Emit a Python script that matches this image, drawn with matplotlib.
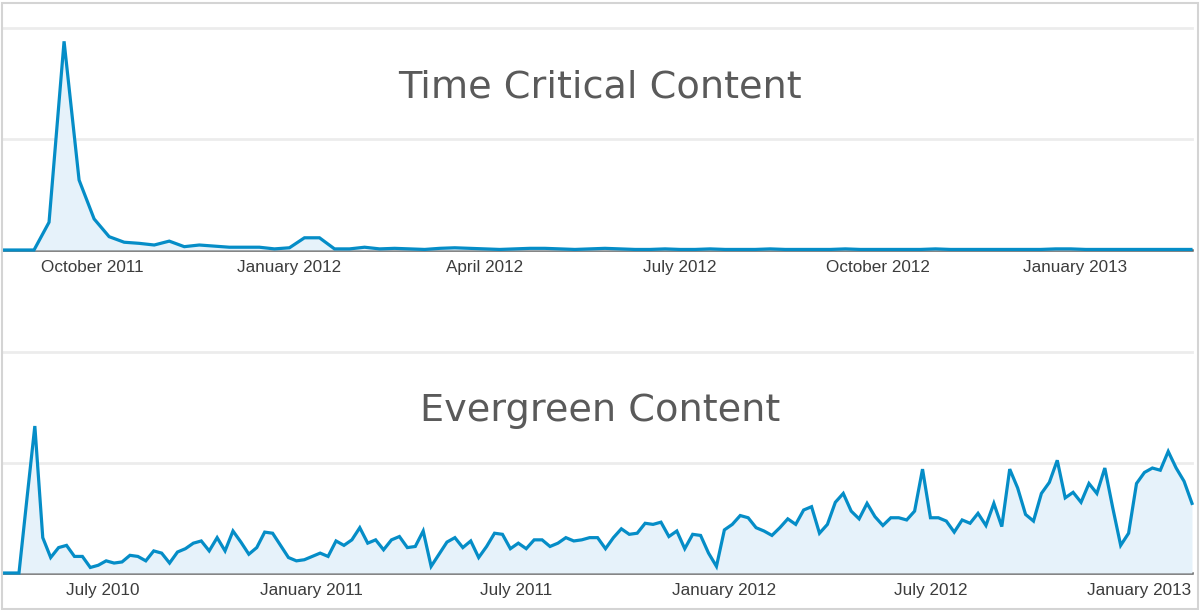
import matplotlib
matplotlib.use("Agg")
import matplotlib.pyplot as plt
import matplotlib.dates as mdates
from matplotlib.patches import Rectangle
import pandas as pd

# weekly values, one chart per content type (unit: visits, grid every 100)
time_critical_start = "2011-08-21"
time_critical = [0, 0, 0, 25, 188, 63, 28, 12, 7, 6, 4.5, 8, 3, 4.5, 3.5, 2.5, 2.5, 2.5, 1, 2,
                 11, 11, 1, 1, 2.5, 1,
                 1.5, 1, 0.5, 1.5, 2, 1.5, 1, 0.5, 1, 1.5, 1.5, 1, 0.5, 1, 1.5, 1, 0.5, 0.5, 1, 0.5,
                 0.5, 1, 0.5, 0.5, 0.5, 1, 0.5, 0.5, 0.5, 0.5, 1, 0.5, 0.5, 0.5, 0.5, 0.5, 1, 0.5, 0.5, 0.5,
                 0.5, 0.5, 0.5, 0.5, 1, 1, 0.5, 0.5, 0.5, 0.5, 0.5, 0.5, 0.5, 0.5]

evergreen_start = "2010-04-04"
evergreen = [0, 0, 0, 67, 133,
             32, 14, 23, 25, 15, 15, 5, 7, 11,
             9, 10, 16, 15, 11, 20, 18, 9, 19, 22,
             27, 29, 20, 32, 20, 38, 28, 17, 23, 37,
             36, 25, 14, 11, 12, 15, 18, 15, 29, 25,
             30, 41, 27, 30, 21, 30, 33, 23, 24, 38,
             6, 17, 28, 32, 23, 29, 14, 24, 36, 35,
             22, 27, 22, 30, 30, 24, 27, 32, 29, 30,
             32, 32, 22, 32, 40, 35, 36, 45, 44, 46,
             33, 38, 22, 35, 34, 18, 6, 39, 44, 52,
             50, 41, 38, 34, 41, 49, 44, 57, 60, 36,
             44, 64, 72, 56, 49, 63, 51, 43, 50, 50,
             48, 56, 94, 50, 50, 47, 37, 48, 45, 54,
             43, 63, 42, 94, 77, 53, 47, 72, 82, 102,
             68, 73, 64, 81, 72, 95, 59, 25, 36, 81,
             91, 95, 93, 110, 95, 83, 63]

top_ticks = ["2011-10-01", "2012-01-01", "2012-04-01", "2012-07-01", "2012-10-01", "2013-01-01"]
top_labels = ["October 2011", "January 2012", "April 2012", "July 2012", "October 2012", "January 2013"]
bottom_ticks = ["2010-07-01", "2011-01-01", "2011-07-01", "2012-01-01", "2012-07-01", "2013-01-01"]
bottom_labels = ["July 2010", "January 2011", "July 2011", "January 2012", "July 2012", "January 2013"]

LINE = "#058dc7"
FILL = "#e6f2fa"
GRID = "#ececec"
W, H = 1200, 610

fig = plt.figure(figsize=(12, 6.1), dpi=100, facecolor="white")
fig.patches.append(Rectangle((1.5 / W, 1.5 / H), 1196.5 / W, 606 / H, transform=fig.transFigure,
                             fill=False, edgecolor="#d4d4d4", lw=1.5))


def draw(rect, start, values, xlim, ticks, labels, title, title_y):
    ax = fig.add_axes(rect)
    dates = pd.date_range(start, periods=len(values), freq="7D")
    for g in [100, 200]:
        ax.axhline(g, color=GRID, lw=2, zorder=0, clip_on=False)
    ax.axhline(0, color="#5e5e5e", lw=1.8, zorder=1, clip_on=False)
    ax.fill_between(dates, values, 0, color=FILL, lw=0, zorder=2)
    ax.plot(dates, values, color=LINE, lw=2.3, zorder=3, clip_on=False, solid_joinstyle="miter")
    ax.set_xlim(pd.Timestamp(xlim[0]), pd.Timestamp(xlim[1]))
    ax.set_ylim(0, 200)
    ax.set_yticks([])
    ax.set_xticks([pd.Timestamp(t) for t in ticks])
    ax.set_xticklabels(labels, fontsize=12.3, color="#3c3c3c", family="Liberation Sans")
    ax.tick_params(axis="x", length=0, pad=7)
    for s in ax.spines.values():
        s.set_visible(False)
    ax.patch.set_alpha(0)
    fig.text(0.5, title_y, title, ha="center", va="baseline", fontsize=27.5,
             color="#5a5a5a", family="DejaVu Sans")
    return ax


draw([2 / W, (H - 250) / H, 1190 / W, 222 / H], time_critical_start, time_critical,
     ("2011-08-20 02:00", "2013-02-24 12:00"), top_ticks, top_labels,
     "Time Critical Content", (H - 98) / H)
draw([2 / W, (H - 573) / H, 1190 / W, 221 / H], evergreen_start, evergreen,
     ("2010-04-03", "2013-02-17"), bottom_ticks, bottom_labels,
     "Evergreen Content", (H - 421) / H)

fig.savefig("out.png", dpi=100)
